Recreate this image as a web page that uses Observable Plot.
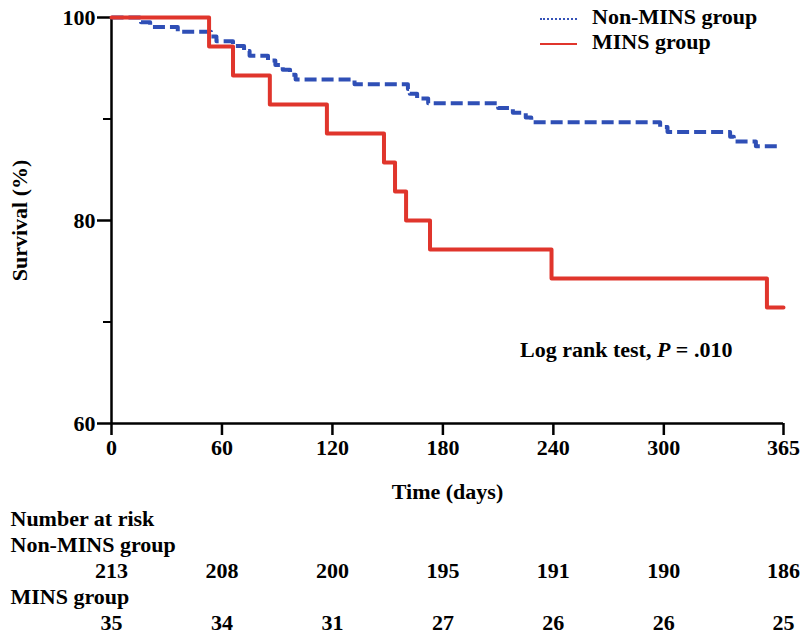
<!DOCTYPE html>
<html>
<head>
<meta charset="utf-8">
<script src="https://cdn.jsdelivr.net/npm/d3@7"></script>
<script src="https://cdn.jsdelivr.net/npm/@observablehq/plot@0.6"></script>
<style>
  body { margin: 0; background: #fff; }
  #wrap { position: relative; width: 800px; height: 638px; font-family: "Liberation Serif", serif; font-weight: bold; }
  #wrap svg { display: block; }
  .ov { position: absolute; font-size: 22px; white-space: nowrap; line-height: 1; }
  .sw { display: inline-block; width: 37px; vertical-align: middle; margin-right: 15px; }
</style>
</head>
<body>
<div id="wrap">
  <div id="chart"></div>
  <div id="risk"></div>
  <div class="ov" style="left:540px; top:6px;">
    <span class="sw" style="border-top:2px dotted #3552b8;"></span>Non-MINS group
  </div>
  <div class="ov" style="left:540px; top:31px;">
    <span class="sw" style="border-top:2px solid #e0352c;"></span>MINS group
  </div>
  <div class="ov" style="left:520px; top:339px;">Log rank test, <i>P</i> = .010</div>
</div>
<script>
  /* Kaplan-Meier curves */
  const nonMinsDays = [0, 16, 21, 36, 54, 57, 66, 72, 75, 85, 89, 93, 97, 100, 132, 161, 162, 166, 172, 210, 218, 225, 228, 298, 302, 336, 338, 350, 363]
  const nonMinsSurv = [100, 99.53, 99.06, 98.59, 98.12, 97.65, 97.18, 96.71, 96.24, 95.77, 95.31, 94.84, 94.37, 93.90, 93.43, 92.96, 92.49, 92.02, 91.55, 91.08, 90.61, 90.14, 89.67, 89.20, 88.73, 88.26, 87.79, 87.32, 87.32]
  const minsDays = [0, 53, 66, 86, 117, 148, 154, 160, 173, 239, 356, 365]
  const minsSurv = [100, 97.14, 94.29, 91.43, 88.57, 85.71, 82.86, 80.00, 77.14, 74.29, 71.43, 71.43]

  /* axes */
  const xTicks = [0, 60, 120, 180, 240, 300, 365]
  const yTicks = [60, 80, 100]
  const yMinor = [70, 90]

  /* number at risk table */
  const riskNonMins = [213, 208, 200, 195, 191, 190, 186]
  const riskMins = [35, 34, 31, 27, 26, 26, 25]
  const riskRows = ['head', 'nonMinsLabel', 'nonMins', 'minsLabel', 'mins']
  const riskHeadings = [
    {row: 'head', text: 'Number at risk'},
    {row: 'nonMinsLabel', text: 'Non-MINS group'},
    {row: 'minsLabel', text: 'MINS group'},
  ]

  const blue = '#2f4fb6'
  const red = '#e0352c'

  const nonMins = nonMinsDays.map((d, i) => ({day: d, surv: nonMinsSurv[i]}))
  const mins = minsDays.map((d, i) => ({day: d, surv: minsSurv[i]}))

  const style = {fontFamily: '"Liberation Serif", serif', fontWeight: 'bold', fontSize: '22px', background: 'white', overflow: 'visible'}

  const chart = Plot.plot({
    width: 800,
    height: 505,
    marginLeft: 111,
    marginRight: 17,
    marginTop: 17,
    marginBottom: 82,
    style: style,
    x: {domain: [0, 365]},
    y: {domain: [60, 100]},
    marks: [
      Plot.axisY({ticks: yTicks, tickSize: 14, tickPadding: 2, strokeWidth: 2.5, label: 'Survival (%)', labelAnchor: 'center', labelOffset: 100, labelArrow: 'none', fontSize: 22}),
      Plot.axisY({ticks: yMinor, tickSize: 8, strokeWidth: 2, tickFormat: () => '', label: null}),
      Plot.axisX({ticks: xTicks, tickSize: 12, tickPadding: 4, strokeWidth: 2.5, label: 'Time (days)', labelAnchor: 'center', labelOffset: 75, labelArrow: 'none', fontSize: 22}),
      Plot.ruleX([0], {strokeWidth: 2.5}),
      Plot.ruleY([60], {strokeWidth: 2.5}),
      Plot.line(nonMins, {x: 'day', y: 'surv', curve: 'step-after', stroke: blue, strokeWidth: 4, strokeDasharray: '12,5', strokeLinecap: 'butt'}),
      Plot.line(mins, {x: 'day', y: 'surv', curve: 'step-after', stroke: red, strokeWidth: 4}),
    ],
  })
  d3.select('#chart').append(() => chart)

  const riskData = xTicks.flatMap((d, i) => [
    {day: d, row: 'nonMins', n: riskNonMins[i]},
    {day: d, row: 'mins', n: riskMins[i]},
  ])

  const risk = Plot.plot({
    width: 800,
    height: 133,
    marginLeft: 10,
    marginRight: 17,
    marginTop: 0,
    marginBottom: 0,
    style: style,
    x: {domain: [0, 365], range: [111, 783], axis: null},
    y: {type: 'point', domain: riskRows, range: [13, 117], padding: 0, axis: null},
    marks: [
      Plot.text(riskHeadings, {y: 'row', text: 'text', frameAnchor: 'left', textAnchor: 'start', fontSize: 22}),
      Plot.text(riskData, {x: 'day', y: 'row', text: 'n', fontSize: 22}),
    ],
  })
  d3.select('#risk').append(() => risk)
</script>
</body>
</html>
